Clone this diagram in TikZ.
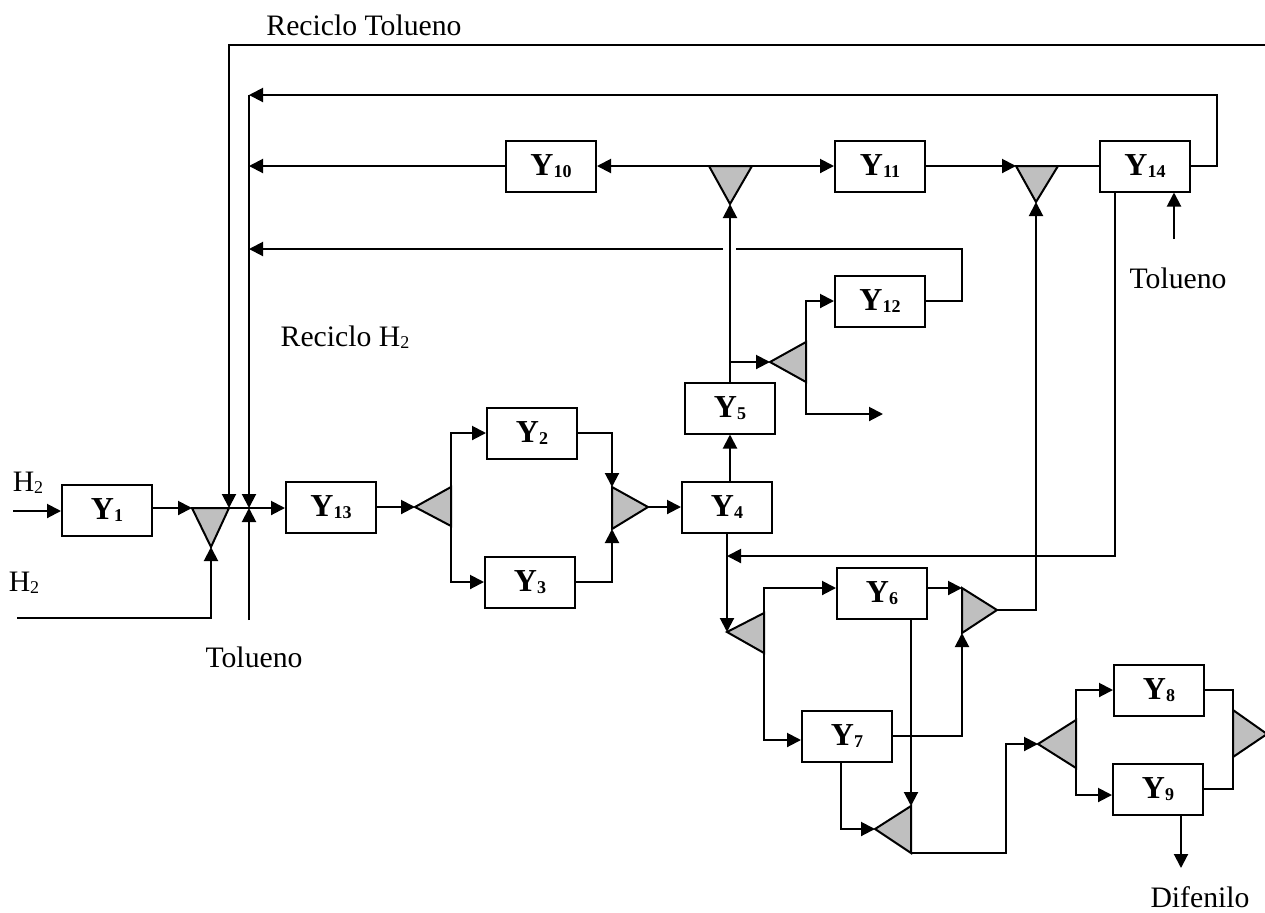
\documentclass[tikz,border=0pt]{standalone}
\usepackage{fontspec}
\setmainfont{Liberation Serif}
\usetikzlibrary{arrows.meta}
\newcommand{\lowidx}[1]{\raisebox{-1pt}{\fontsize{9}{9}\selectfont #1}}
\newcommand{\unitlab}[1]{\textbf{Y\lowidx{#1}}}

\begin{document}
\begin{tikzpicture}%
  [x=0.5pt,y=-0.5pt,
   unit/.style=
    {draw,line width=1pt,minimum width=45pt,minimum height=25.5pt,inner sep=0pt,
     font=\fontsize{16}{16}\selectfont},
   tri/.style={draw,line width=1pt,fill=black!25,line join=miter},
   flow/.style={line width=1pt,-{Triangle[length=7pt,width=7pt]}},
   link/.style={line width=1pt},
   tag/.style={font=\fontsize{14.85}{16}\selectfont}
  ]
  \useasboundingbox (0,0) rectangle (1265,912);
  \node[unit] (y1) at (107,510) {\unitlab{1}};
  \node[unit] (y13) at (331,507) {\unitlab{13}};
  \node[unit] (y2) at (532,433) {\unitlab{2}};
  \node[unit] (y3) at (530,582) {\unitlab{3}};
  \node[unit] (y4) at (727,507) {\unitlab{4}};
  \node[unit] (y5) at (730,408) {\unitlab{5}};
  \node[unit] (y10) at (551,166) {\unitlab{10}};
  \node[unit] (y11) at (880,166) {\unitlab{11}};
  \node[unit] (y14) at (1145,166) {\unitlab{14}};
  \node[unit] (y12) at (880,301) {\unitlab{12}};
  \node[unit] (y6) at (882,593) {\unitlab{6}};
  \node[unit] (y7) at (847,736) {\unitlab{7}};
  \node[unit] (y8) at (1159,690) {\unitlab{8}};
  \node[unit] (y9) at (1158,789) {\unitlab{9}};

  \node[tag] (rtol) at (364,25) {Reciclo Tolueno};
  \node[tag] (rh2) at (345,337) {Reciclo H\lowidx{2}};
  \node[tag] (tol1) at (254,657) {Tolueno};
  \node[tag] (tol2) at (1178,278) {Tolueno};
  \node[tag] (h2u) at (28,483) {H\lowidx{2}};
  \node[tag] (h2l) at (24,583) {H\lowidx{2}};
  \node[tag] (dfn) at (1200,897) {Difenilo};

  \coordinate (mx1) at (211,547); \coordinate (mx1l) at (192,508); \coordinate (mx1r) at (229,508);
  \coordinate (spT) at (730,204); \coordinate (spTl) at (709,166); \coordinate (spTr) at (752,166);
  \coordinate (mxK) at (1036,202); \coordinate (mxKl) at (1016,166); \coordinate (mxKr) at (1058,166);
  \coordinate (spA) at (415,507); \coordinate (spAt) at (451,487); \coordinate (spAb) at (451,526);
  \coordinate (mxB) at (648,507); \coordinate (mxBt) at (612,487); \coordinate (mxBb) at (612,529);
  \coordinate (spP) at (770,362); \coordinate (spPt) at (806,342); \coordinate (spPb) at (806,382);
  \coordinate (spC) at (727,632); \coordinate (spCt) at (764,613); \coordinate (spCb) at (764,653);
  \coordinate (mxD) at (997,610); \coordinate (mxDt) at (962,588); \coordinate (mxDb) at (962,633);
  \coordinate (mxE) at (875,829); \coordinate (mxEt) at (911,806); \coordinate (mxEb) at (911,853);
  \coordinate (spF) at (1038,744); \coordinate (spFt) at (1076,720); \coordinate (spFb) at (1076,768);
  \coordinate (mxG) at (1267,734); \coordinate (mxGt) at (1233,710); \coordinate (mxGb) at (1233,757);
  \foreach \t in {mx1,spT,mxK}
    \filldraw[tri] (\t) -- (\t l) -- (\t r) -- cycle;
  \foreach \t in {spA,mxB,spP,spC,mxD,mxE,spF,mxG}
    \filldraw[tri] (\t) -- (\t t) -- (\t b) -- cycle;

  \coordinate (h2a) at (13,511);
  \coordinate (h2b) at (17,618);
  \coordinate (rtR) at (1265,45);
  \coordinate (jn) at (249,508);
  \coordinate (jtop) at (249,95);
  \coordinate (tolB) at (249,620);
  \coordinate (rh) at (249,249);
  \coordinate (rhL) at (723,249);
  \coordinate (rhR) at (736,249);
  \coordinate (rhC) at (962,249);
  \coordinate (r4) at (727,556);
  \coordinate (br5) at (730,362);
  \coordinate (out5) at (883,414);
  \coordinate (jF) at (1006,744);
  \coordinate (tolR) at (1174,239);
  \coordinate (dif) at (1181,868);

  \draw[flow] (h2a) -- (y1.west |- h2a);
  \draw[flow] (y1.east |- mx1l) -- (mx1l);
  \draw[flow] (h2b) -| (mx1);
  \draw[flow] (mx1r) -- (y13.west |- mx1r);
  \draw[flow] (rtR) -| (mx1r);
  \draw[flow] (jtop) -- (jn);
  \draw[flow] (tolB) -- (jn);
  \draw[flow] (y14.east) -- ++(26,0) |- (jtop);
  \draw[flow] (y10.west) -- (jn |- y10.west);
  \draw[link] (y12.east) -| (rhC) -- (rhR);
  \draw[flow] (rhL) -- (rh);
  \draw[flow] (spTl) -- (y10.east |- spTl);
  \draw[flow] (spTr) -- (y11.west |- spTr);
  \draw[flow] (y11.east) -- (mxKl);
  \draw[link] (mxKr) -- (y14.west |- mxKr);
  \draw[flow] (tolR) -- (tolR |- y14.south);
  \draw[flow] ([xshift=-15pt]y14.south) |- (r4);
  \draw[flow] (y13.east |- spA) -- (spA);
  \draw[flow] (spAt) |- (y2.west);
  \draw[flow] (spAb) |- (y3.west);
  \draw[flow] (y2.east) -| (mxBt);
  \draw[flow] (y3.east) -| (mxBb);
  \draw[flow] (mxB) -- (y4.west |- mxB);
  \draw[flow] (y4.north -| y5) -- (y5.south);
  \draw[flow] (y5.north) -- (spT);
  \draw[flow] (br5) -- (spP);
  \draw[flow] (spPt) |- (y12.west);
  \draw[flow] (spPb) |- (out5);
  \draw[flow] (y4.south) -- (spC);
  \draw[flow] (spCt) |- ([yshift=2.5pt]y6.west);
  \draw[flow] (spCb) |- ([yshift=-2pt]y7.west);
  \draw[flow] (y6.east |- mxDt) -- (mxDt);
  \draw[flow] (y7.east) -| (mxDb);
  \draw[flow] (mxD) -| (mxK);
  \draw[flow] (mxEt |- y6.south) -- (mxEt);
  \draw[flow] ([xshift=-3pt]y7.south) |- (mxE);
  \draw[flow] (mxEb) -| (jF) -- (spF);
  \draw[flow] (spFt) |- (y8.west);
  \draw[flow] (spFb) |- ([yshift=-3pt]y9.west);
  \draw[link] (y8.east) -| (mxGt);
  \draw[link] (y9.east) -| (mxGb);
  \draw[flow] (dif |- y9.south) -- (dif);
\end{tikzpicture}
\end{document}
